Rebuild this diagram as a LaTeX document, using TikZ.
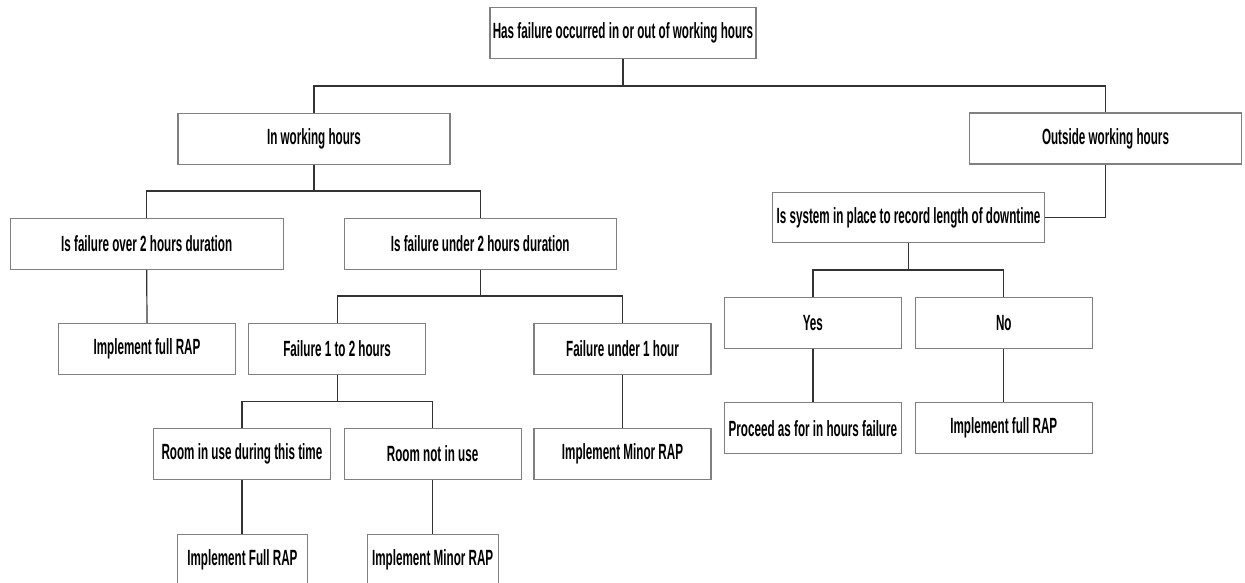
\documentclass[tikz,border=0pt]{standalone}
\usepackage{fontspec}
\newfontfamily\dfont{Liberation Sans Bold}[FakeStretch=0.53]
\begin{document}
\begin{tikzpicture}[x=1pt,y=-1pt,
  box/.style={draw=black!50,line width=1.1pt,fill=white,inner sep=0pt,minimum height=51pt,font=\dfont\fontsize{22}{26}\selectfont,anchor=center},
  wbox/.style={box,minimum width=272pt},
  nbox/.style={box,minimum width=177pt},
  link/.style={draw=black!80,line width=1.2pt}]
\useasboundingbox (0,0) rectangle (1245,582);
\fill[white] (0,0) rectangle (1245,582);
\clip (0,0) rectangle (1245,582);
% nodes
\node[box,minimum width=266pt] (top) at (623,32.8) {Has failure occurred in or out of working hours};
\node[wbox] (inwh) at (314,138.7) {In working hours};
\node[wbox] (outwh) at (1105.5,138.5) {Outside working hours};
\node[wbox,minimum width=273pt] (over) at (146.7,243.8) {Is failure over 2 hours duration};
\node[wbox] (under) at (480.2,243.8) {Is failure under 2 hours duration};
\node[box,minimum width=271.5pt,minimum height=50pt] (sys) at (908.5,217.7) {Is system in place to record length of downtime};
\node[nbox] (fullL) at (147,348.8) {Implement full RAP};
\node[nbox] (f12) at (337.1,348.8) {Failure 1 to 2 hours};
\node[nbox] (fu1) at (622.5,348.8) {Failure under 1 hour};
\node[nbox] (yes) at (812.9,322.8) {Yes};
\node[nbox] (no) at (1003.8,322.8) {No};
\node[nbox] (room) at (241.9,454) {Room in use during this time};
\node[nbox] (notuse) at (432.6,454) {Room not in use};
\node[nbox] (minorR) at (622.5,453.8) {Implement Minor RAP};
\node[nbox] (proceed) at (812.9,428.3) {Proceed as for in hours failure};
\node[nbox] (fullR) at (1003.8,428.3) {Implement full RAP};
\node[box,minimum width=130pt] (fullB) at (242.4,559.8) {Implement Full RAP};
\node[box,minimum width=131pt] (minorB) at (432.7,559.8) {Implement Minor RAP};
% connectors
\coordinate (j1) at (623,86);
\path[link] (top.south) -- (j1) -| (inwh.north);
\path[link] (j1) -| (outwh.north);
\coordinate (j2) at (314,191);
\path[link] (inwh.south) -- (j2) -| (over.north);
\path[link] (j2) -| (under.north);
\path[link] (over.south) -- (fullL.north);
\coordinate (j3) at (480.2,296);
\path[link] (under.south) -- (j3) -| (f12.north);
\path[link] (j3) -| (fu1.north);
\path[link] (fu1.south) -- (minorR.north);
\coordinate (j4) at (337.1,401.7);
\path[link] (f12.south) -- (j4) -| (room.north);
\path[link] (j4) -| (notuse.north);
\path[link] (room.south) -- (room.south |- fullB.north);
\path[link] (notuse.south) -- (notuse.south |- minorB.north);
\path[link] (outwh.south) |- (sys.east);
\coordinate (j5) at (908.5,270);
\path[link] (sys.south) -- (j5) -| (yes.north);
\path[link] (j5) -| (no.north);
\path[link] (yes.south) -- (proceed.north);
\path[link] (no.south) -- (fullR.north);
\end{tikzpicture}
\end{document}
